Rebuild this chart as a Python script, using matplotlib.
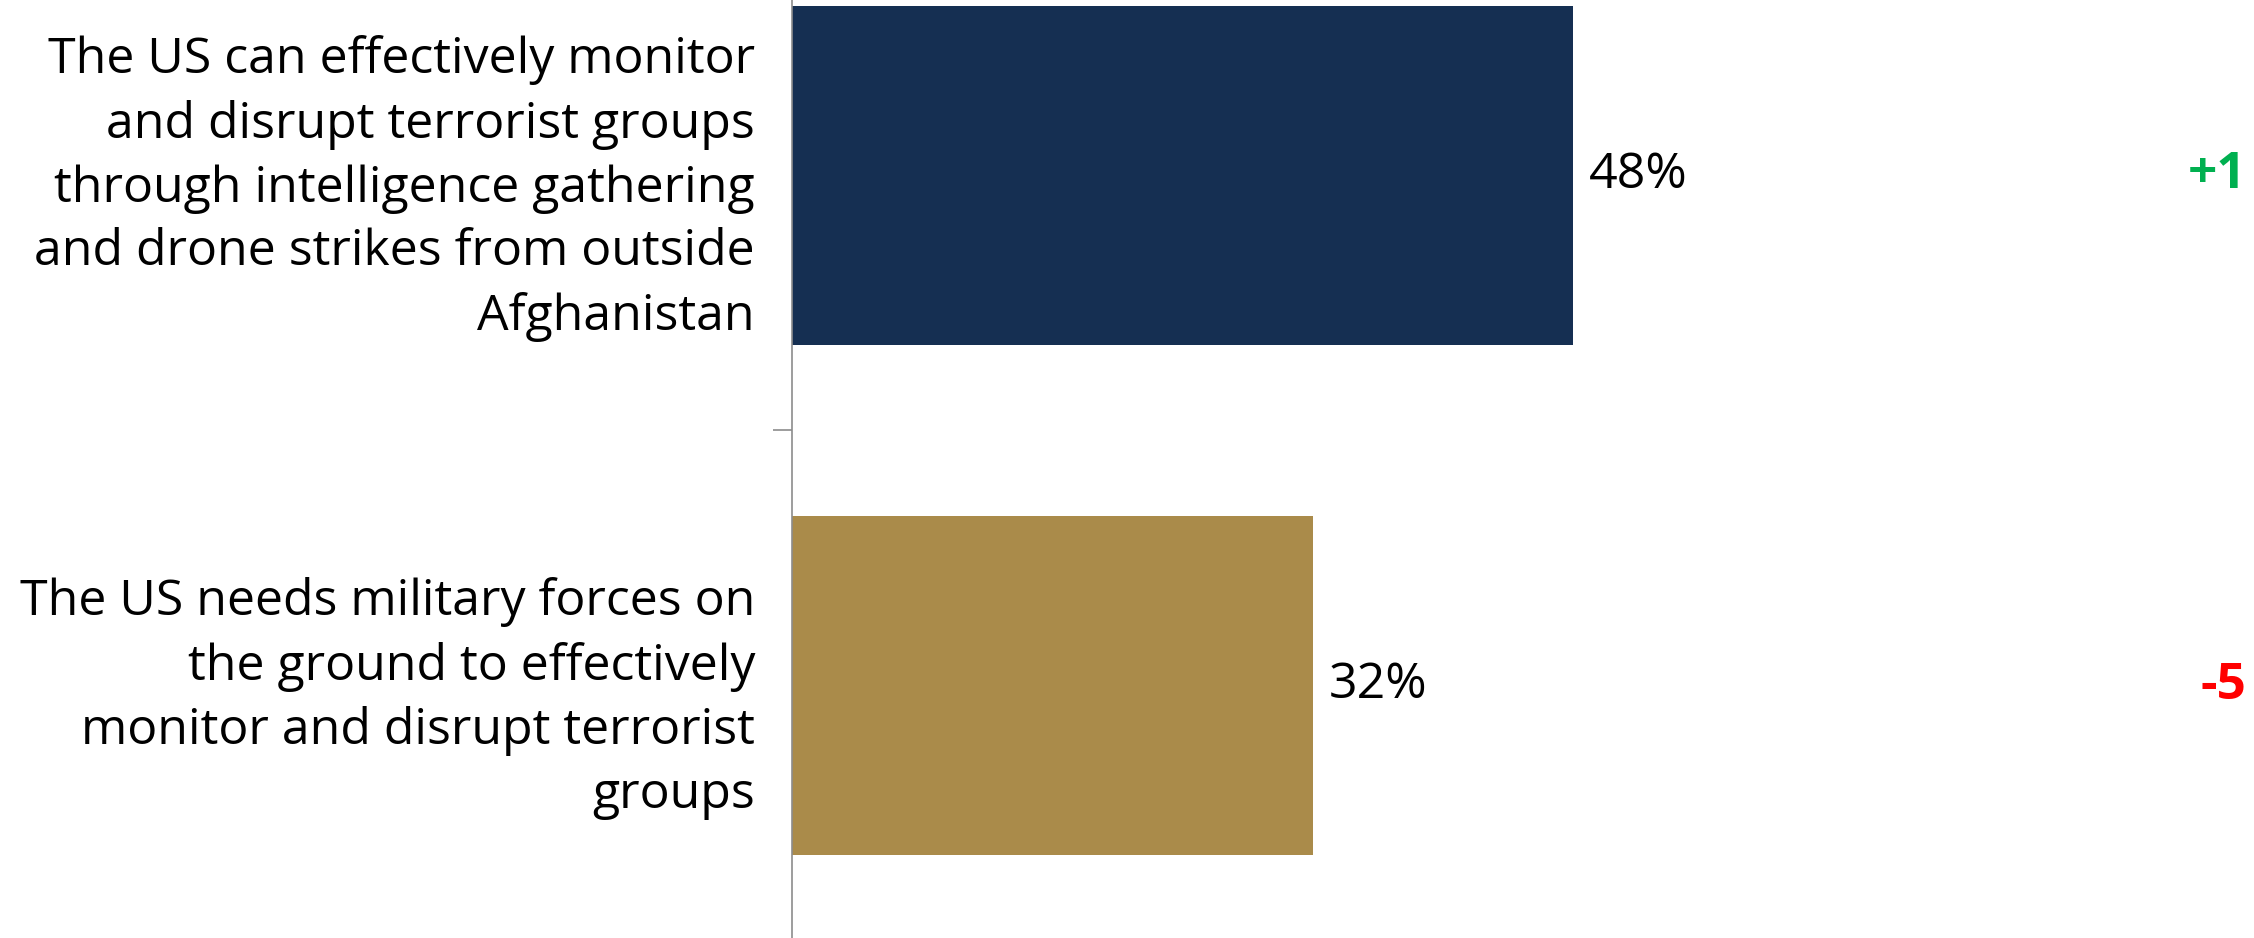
import matplotlib.pyplot as plt
import numpy as np

# Data
statements = [
    "The US can effectively monitor\nand disrupt terrorist groups\nthrough intelligence gathering\nand drone strikes from outside\nAfghanistan",
    "The US needs military forces on\nthe ground to effectively\nmonitor and disrupt terrorist\ngroups",
]
shares = [48, 32]
changes = ["+1", "-5"]

bar_colors = ["#152F52", "#AA8B4A"]
change_colors = ["#00B050", "#FF0000"]

plt.rcParams["font.family"] = ["Open Sans", "DejaVu Sans"]

fig = plt.figure(figsize=(22.54, 9.38), dpi=100)
ax = fig.add_axes([792 / 2254, 0, 1 - 792 / 2254, 1])

y = np.arange(len(statements))
ax.barh(y, shares, height=0.665, color=bar_colors)

ax.set_xlim(0, 1462 / 16.27)
ax.set_ylim(1.495, -0.344)

for yi, val in zip(y, shares):
    ax.text(val + 1.0, yi, f"{val}%", va="center", ha="left", fontsize=36)

for yi, ch, col in zip(y, changes, change_colors):
    ax.text(1 - 8 / 1462, yi, ch, transform=ax.get_yaxis_transform(),
            va="center", ha="right", fontsize=37, fontweight="bold", color=col)

ax.set_yticks(y)
ax.set_yticklabels(statements, fontsize=36, linespacing=1.38, ha="right")
ax.tick_params(axis="y", which="major", length=0, pad=26.6)
ax.set_yticks([0.5], minor=True)
ax.tick_params(axis="y", which="minor", length=14, color="#8C8C8C", width=1.2)
ax.set_xticks([])

for side in ["top", "right", "bottom"]:
    ax.spines[side].set_visible(False)
ax.spines["left"].set_color("#8C8C8C")
ax.spines["left"].set_linewidth(1.2)

fig.savefig("out.png", dpi=100)
